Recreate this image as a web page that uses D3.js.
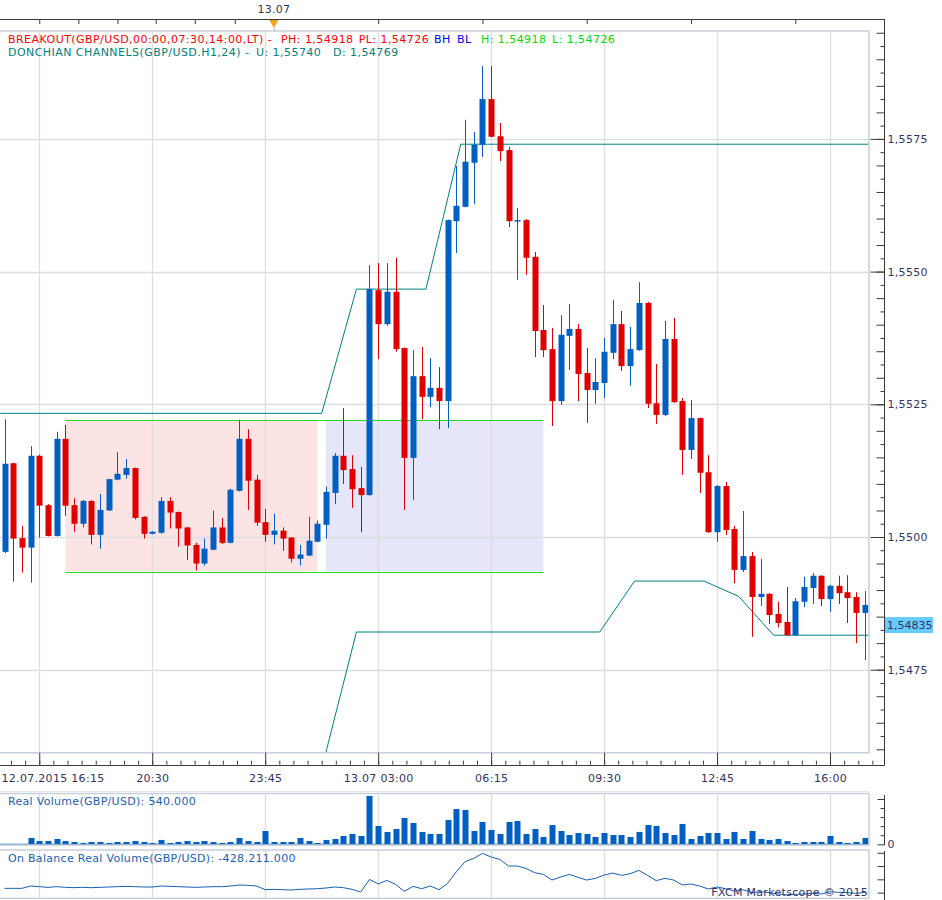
<!DOCTYPE html>
<html>
<head>
<meta charset="utf-8">
<script src="https://cdn.jsdelivr.net/npm/d3@7"></script>
<style>
  body { margin: 0; background: #fff; }
  svg text { font-family: "DejaVu Sans", Verdana, sans-serif; font-size: 11px; letter-spacing: 0.3px; }
  svg text.legend { letter-spacing: 0.45px; }
  svg text.last { letter-spacing: 0; }
</style>
</head>
<body>
<div id="chart"></div>
<script>
// GBP/USD 15 min bars
const open = [
  1.54972,1.55139,1.54998,1.54980,1.55153,1.55060,1.55002,1.55185,1.55060,1.55025,
  1.55068,1.55004,1.55050,1.55108,1.55117,1.55130,1.55038,1.55006,1.55008,1.55068,
  1.55047,1.55018,1.54985,1.54950,1.54976,1.55018,1.54989,1.55087,1.55185,1.55108,
  1.55028,1.55004,1.55012,1.54999,1.54959,1.54965,1.54991,1.55023,1.55083,1.55153,
  1.55128,1.55092,1.55079,1.55465,1.55401,1.55462,1.55356,1.55149,1.55303,1.55264,
  1.55281,1.55256,1.55595,1.55622,1.55705,1.55739,1.55825,1.55755,1.55729,1.55595,
  1.55597,1.55528,1.55390,1.55354,1.55256,1.55379,1.55392,1.55309,1.55277,1.55290,
  1.55347,1.55401,1.55322,1.55352,1.55441,1.55252,1.55230,1.55373,1.55256,1.55164,
  1.55224,1.55122,1.55009,1.55096,1.55015,1.54938,1.54964,1.54887,1.54893,1.54855,
  1.54840,1.54815,1.54878,1.54904,1.54927,1.54883,1.54908,1.54896,1.54887,1.54857
];
const high = [
  1.55222,1.55140,1.55021,1.55171,1.55155,1.55062,1.55198,1.55211,1.55073,1.55070,
  1.55069,1.55081,1.55110,1.55160,1.55147,1.55131,1.55039,1.55011,1.55075,1.55075,
  1.55048,1.55019,1.54989,1.54997,1.55050,1.55036,1.55091,1.55221,1.55203,1.55117,
  1.55053,1.55044,1.55018,1.55000,1.54985,1.55038,1.55031,1.55095,1.55158,1.55243,
  1.55154,1.55132,1.55512,1.55516,1.55516,1.55526,1.55357,1.55352,1.55358,1.55337,
  1.55320,1.55598,1.55699,1.55786,1.55763,1.55887,1.55887,1.55780,1.55735,1.55620,
  1.55599,1.55537,1.55437,1.55394,1.55418,1.55439,1.55401,1.55356,1.55337,1.55375,
  1.55447,1.55426,1.55396,1.55480,1.55443,1.55326,1.55407,1.55413,1.55262,1.55258,
  1.55225,1.55154,1.55098,1.55104,1.55021,1.55049,1.54972,1.54959,1.54894,1.54878,
  1.54906,1.54885,1.54925,1.54932,1.54928,1.54910,1.54927,1.54928,1.54896,1.54898
];
const low = [
  1.54970,1.54916,1.54933,1.54914,1.54999,1.55001,1.55001,1.55040,1.55010,1.55018,
  1.54986,1.54978,1.55049,1.55107,1.55110,1.55033,1.54997,1.55005,1.55006,1.55016,
  1.54982,1.54957,1.54937,1.54946,1.54975,1.54987,1.54988,1.55086,1.55051,1.55021,
  1.54991,1.54986,1.54974,1.54952,1.54946,1.54964,1.54990,1.54997,1.55062,1.55100,
  1.55055,1.55009,1.55078,1.55335,1.55398,1.55349,1.55051,1.55070,1.55222,1.55245,
  1.55203,1.55205,1.55535,1.55621,1.55627,1.55716,1.55753,1.55708,1.55584,1.55484,
  1.55494,1.55339,1.55339,1.55209,1.55249,1.55315,1.55256,1.55215,1.55251,1.55262,
  1.55335,1.55313,1.55285,1.55351,1.55243,1.55213,1.55228,1.55253,1.55117,1.55147,
  1.55083,1.55008,1.54991,1.55004,1.54913,1.54934,1.54812,1.54870,1.54836,1.54830,
  1.54814,1.54814,1.54868,1.54874,1.54870,1.54859,1.54874,1.54838,1.54800,1.54768
];
const close = [
  1.55138,1.54997,1.54980,1.55153,1.55059,1.55002,1.55185,1.55059,1.55025,1.55068,
  1.55004,1.55051,1.55109,1.55119,1.55130,1.55036,1.55006,1.55010,1.55068,1.55046,
  1.55016,1.54984,1.54950,1.54978,1.55018,1.54989,1.55089,1.55185,1.55106,1.55027,
  1.55004,1.55012,1.54997,1.54959,1.54967,1.54993,1.55025,1.55085,1.55153,1.55126,
  1.55090,1.55079,1.55467,1.55401,1.55462,1.55354,1.55149,1.55303,1.55264,1.55281,
  1.55256,1.55597,1.55624,1.55707,1.55739,1.55825,1.55754,1.55727,1.55595,1.55597,
  1.55526,1.55388,1.55352,1.55256,1.55381,1.55392,1.55307,1.55277,1.55292,1.55349,
  1.55401,1.55322,1.55354,1.55441,1.55251,1.55230,1.55373,1.55254,1.55164,1.55224,
  1.55121,1.55009,1.55096,1.55013,1.54938,1.54964,1.54887,1.54893,1.54853,1.54838,
  1.54815,1.54879,1.54906,1.54927,1.54883,1.54908,1.54894,1.54885,1.54857,1.54872
];
// real volume (thousands)
const volume = [
  0,0,0,540,280,280,450,280,200,110,
  200,200,110,200,200,280,200,110,370,110,
  200,280,200,280,200,110,200,540,280,200,
  1130,200,200,200,540,280,110,370,450,710,
  880,710,4110,1560,1050,1300,2240,1810,1050,880,
  880,2070,3000,2920,1130,1900,1220,880,1900,1980,
  880,1300,620,1640,1130,790,960,880,620,960,
  790,790,620,1050,1640,1560,960,790,1730,450,
  710,960,960,450,1050,450,1130,450,370,450,
  280,110,200,200,200,710,200,110,200,540
];
// on balance real volume (thousands)
const obv = [
  -426947,-426947,-426947,-426210,-426421,-426631,-426421,-426631,-426737,-426631,
  -426737,-426631,-426526,-426421,-426316,-426421,-426526,-426526,-426210,-426316,
  -426421,-426526,-426631,-426526,-426421,-426421,-426210,-425894,-426000,-426210,
  -427369,-427263,-427369,-427474,-427263,-427158,-427053,-426842,-426526,-426737,
  -427263,-428106,-424104,-425578,-424420,-425684,-427895,-426316,-427053,-426210,
  -427369,-425368,-421682,-418523,-417470,-415891,-417049,-417786,-419892,-419892,
  -420629,-421998,-422525,-424315,-423367,-422525,-423472,-424315,-423788,-422735,
  -422104,-422841,-422314,-421261,-422841,-424525,-423788,-424315,-425894,-425578,
  -426210,-427158,-426526,-427053,-427790,-427369,-428316,-428000,-428316,-428738,
  -428948,-428843,-428738,-428527,-428738,-428000,-428211,-428316,-428527,-428211
];

// Donchian channel (H1, 24) at hourly points, bar index / price
const donchUpperBars = [-0.5, 36.5, 40.5, 48.5, 52.5, 99.5];
const donchUpper = [1.55233, 1.55233, 1.55467, 1.55467, 1.55740, 1.55740];
const donchLowerBars = [-0.5, 36.5, 40.5, 68.5, 72.5, 80.5, 84.5, 88.5, 99.5];
const donchLower = [1.54563, 1.54563, 1.54821, 1.54821, 1.54917, 1.54917, 1.54888, 1.54815, 1.54815];

// breakout sessions (00:00-07:30 and 07:30-14:00) and previous range
const sessionBars = [[7, 36], [37, 62]];
const rangeHigh = 1.55221;
const rangeLow = 1.54935;

const timeLabels = ["12.07.2015 16:15", "20:30", "23:45", "13.07 03:00", "06:15", "09:30", "12:45", "16:00"];
const timeLabelBars = [4, 17, 30, 43, 56, 69, 82, 95];
const topTickBars = [4, 8.5, 13, 17.4, 21.9, 26.5, 43, 55, 67, 79, 91];
const dayLabel = "13.07";
const dayBar = 31;
const priceTicks = [1.5475, 1.5500, 1.5525, 1.5550, 1.5575];
const lastPrice = 1.54835;

const svg = d3.select("#chart").append("svg").attr("width", 942).attr("height", 900);

const plotRight = 869, plotTop = 31, plotBottom = 752.7, axisX = 884;
const volTop = 793.5, volBottom = 845, obvTop = 850, obvBottom = 898.3;
const axisColor = "#3a3a3a", labelColor = "#333366", gridColor = "#dedede", frameColor = "#c6d0dc";
const bull = "#0060c2", bear = "#e00000";

const x = d3.scaleLinear().domain([0, 99]).range([4.5, 864.8]);
const y = d3.scaleLinear().domain([1.5475, 1.5575]).range([669.7, 138.9]);
const yVol = d3.scaleLinear().domain([0, 4200]).range([844.3, 794.9]);
const yObv = d3.scaleLinear().domain([-430000, -414000]).range([898, 847.4]);
const px = v => Math.round(v) + 0.5;
const fmt = d => d3.format(".4f")(d).replace(".", ",");

const defs = svg.append("defs");
[["mainClip", plotTop, plotBottom], ["volClip", volTop, volBottom], ["obvClip", obvTop, obvBottom]].forEach(c => {
  defs.append("clipPath").attr("id", c[0]).append("rect")
    .attr("x", 0).attr("y", c[1]).attr("width", plotRight).attr("height", c[2] - c[1]);
});

// ---------- main price panel ----------
const main = svg.append("g").attr("clip-path", "url(#mainClip)");

sessionBars.forEach((s, k) => {
  main.append("rect")
    .attr("x", x(s[0])).attr("width", x(s[1]) - x(s[0]))
    .attr("y", y(rangeHigh)).attr("height", y(rangeLow) - y(rangeHigh))
    .attr("fill", k === 0 ? "#fde4e4" : "#e6e6fb");
});

main.selectAll(".hgrid").data(priceTicks).enter().append("line")
  .attr("x1", 0).attr("x2", plotRight)
  .attr("y1", d => px(y(d))).attr("y2", d => px(y(d)))
  .attr("stroke", gridColor).attr("stroke-width", 1.3);

main.selectAll(".vgrid").data(timeLabelBars).enter().append("line")
  .attr("x1", d => px(x(d))).attr("x2", d => px(x(d)))
  .attr("y1", plotTop).attr("y2", plotBottom)
  .attr("stroke", gridColor).attr("stroke-width", 1.3);

[rangeHigh, rangeLow].forEach(p => {
  main.append("line")
    .attr("x1", x(sessionBars[0][0])).attr("x2", x(sessionBars[1][1]))
    .attr("y1", px(y(p))).attr("y2", px(y(p)))
    .attr("stroke", "#22dd22").attr("stroke-width", 1);
});

const channel = d3.line().x(d => x(d[0])).y(d => y(d[1]));
[[donchUpperBars, donchUpper], [donchLowerBars, donchLower]].forEach(c => {
  main.append("path")
    .datum(d3.zip(c[0], c[1]))
    .attr("fill", "none")
    .attr("stroke", "#008080")
    .attr("stroke-width", 1)
    .attr("d", channel);
});

const candles = open.map((o, i) => ({ i: i, o: o, h: high[i], l: low[i], c: close[i] }));

main.selectAll(".wick").data(candles).enter().append("line")
  .attr("x1", d => px(x(d.i))).attr("x2", d => px(x(d.i)))
  .attr("y1", d => y(d.h)).attr("y2", d => y(d.l))
  .attr("stroke", d => d.c >= d.o ? bull : bear)
  .attr("stroke-width", 1);

main.selectAll(".body").data(candles).enter().append("rect")
  .attr("x", d => Math.round(x(d.i)) - 2.5)
  .attr("width", 6)
  .attr("y", d => y(Math.max(d.o, d.c)))
  .attr("height", d => Math.max(1.5, Math.abs(y(d.o) - y(d.c))))
  .attr("fill", d => d.c >= d.o ? bull : bear);

svg.append("path")
  .attr("d", `M0,${plotTop}H${plotRight}V${plotBottom}H0`)
  .attr("fill", "none").attr("stroke", frameColor).attr("stroke-width", 1.5);

// legend
const legend1 = [
  ["BREAKOUT(GBP/USD,00:00,07:30,14:00,LT) -", 8, "#ff0000"],
  ["PH: 1,54918", 281, "#ff0000"],
  ["PL: 1,54726", 358.7, "#ff0000"],
  ["BH", 434, "#0000ff"],
  ["BL", 457, "#0000ff"],
  ["H: 1,54918", 481, "#00dd00"],
  ["L: 1,54726", 552, "#00dd00"]
];
legend1.forEach(t => {
  svg.append("text").attr("class", "legend").attr("x", t[1]).attr("y", 43).attr("fill", t[2]).text(t[0]);
});
[["DONCHIAN CHANNELS(GBP/USD.H1,24) -", 8], ["U: 1,55740", 256], ["D: 1,54769", 333]].forEach(t => {
  svg.append("text").attr("class", "legend").attr("x", t[1]).attr("y", 56).attr("fill", "#008080").text(t[0]);
});

// top ruler
const topAxis = svg.append("g")
  .attr("transform", "translate(0,19)")
  .call(d3.axisBottom(x).tickValues(topTickBars).tickSize(5).tickFormat(""));
topAxis.select(".domain").remove();
topAxis.selectAll("line").attr("stroke", axisColor);
svg.append("line").attr("x1", 0).attr("x2", axisX + 0.5).attr("y1", 19.5).attr("y2", 19.5).attr("stroke", axisColor);
svg.append("text").attr("x", x(dayBar)).attr("y", 13).attr("text-anchor", "middle").attr("fill", labelColor).text(dayLabel);
svg.append("path")
  .attr("d", `M${x(dayBar) - 4.5},20L${x(dayBar) + 4.5},20L${x(dayBar)},28Z`)
  .attr("fill", "#f6a21c");
svg.append("line")
  .attr("x1", px(x(dayBar))).attr("x2", px(x(dayBar))).attr("y1", 28).attr("y2", plotTop)
  .attr("stroke", "#bbbbbb");

// bottom time axis
const bottomY = 764.7;
const minorTime = svg.append("g")
  .attr("transform", `translate(0,${bottomY})`)
  .call(d3.axisBottom(x).tickValues(d3.range(4 - 13 / 8 * 2, 100, 13 / 8)).tickSize(-4).tickFormat(""));
minorTime.select(".domain").remove();
minorTime.selectAll("line").attr("stroke", axisColor);

const timeAxis = svg.append("g")
  .attr("transform", `translate(0,${bottomY})`)
  .call(d3.axisBottom(x).tickValues(timeLabelBars).tickSize(-12).tickPadding(10)
    .tickFormat((d, i) => timeLabels[i]));
timeAxis.select(".domain").remove();
timeAxis.selectAll("line").attr("stroke", axisColor);
timeAxis.selectAll("text").attr("fill", labelColor).style("font-size", "11px").style("font-family", null);
timeAxis.select(".tick text").attr("text-anchor", "start").attr("x", -x(timeLabelBars[0]) + 1);
svg.append("line").attr("x1", 0).attr("x2", axisX + 0.5).attr("y1", px(bottomY)).attr("y2", px(bottomY)).attr("stroke", axisColor);

// right price axis
svg.append("line").attr("x1", axisX + 0.5).attr("x2", axisX + 0.5).attr("y1", 19).attr("y2", px(bottomY)).attr("stroke", axisColor);
const minorPrice = d3.range(1.5460, 1.5600, 0.00025).filter(p => y(p) > 22 && y(p) < 762);
const priceMinor = svg.append("g")
  .attr("transform", `translate(${axisX + 0.5},0)`)
  .call(d3.axisRight(y).tickValues(minorPrice).tickSize(-4).tickFormat(""));
priceMinor.selectAll(".tick line").attr("x2", d => Math.abs(d * 2000 - Math.round(d * 2000)) < 1e-6 ? -8 : -4);
const priceAxis = svg.append("g")
  .attr("transform", `translate(${axisX + 0.5},0)`)
  .call(d3.axisRight(y).tickValues(priceTicks).tickSize(-14).tickPadding(3).tickFormat(fmt));
[priceMinor, priceAxis].forEach(a => {
  a.select(".domain").remove();
  a.selectAll("line").attr("stroke", axisColor);
});
priceAxis.selectAll("text").attr("fill", labelColor).style("font-size", "11px").style("font-family", null);

svg.append("rect")
  .attr("x", 885).attr("y", y(lastPrice) - 7.5).attr("width", 48).attr("height", 16)
  .attr("fill", "#66ccff");
svg.append("text")
  .attr("class", "last")
  .attr("x", 887).attr("y", y(lastPrice) + 4.5).attr("fill", labelColor)
  .text(d3.format(".5f")(lastPrice).replace(".", ","));

// ---------- volume panel ----------
const vol = svg.append("g").attr("clip-path", "url(#volClip)");
vol.selectAll(".vgrid").data(timeLabelBars).enter().append("line")
  .attr("x1", d => px(x(d))).attr("x2", d => px(x(d)))
  .attr("y1", volTop).attr("y2", volBottom)
  .attr("stroke", gridColor).attr("stroke-width", 1.3);
vol.selectAll(".bar").data(volume).enter().append("rect")
  .attr("x", (d, i) => Math.round(x(i)) - 2.5)
  .attr("width", 6)
  .attr("y", d => yVol(d))
  .attr("height", d => yVol(0) - yVol(d))
  .attr("fill", bull);
vol.append("line").attr("x1", 0).attr("x2", plotRight).attr("y1", yVol(0)).attr("y2", yVol(0))
  .attr("stroke", "#1a5fb4").attr("stroke-width", 1.2);
svg.append("line").attr("x1", 0).attr("x2", plotRight).attr("y1", 791.5).attr("y2", 791.5).attr("stroke", "#e4e8ee");
svg.append("rect").attr("x", -2).attr("y", volTop).attr("width", plotRight + 2).attr("height", volBottom - volTop)
  .attr("fill", "none").attr("stroke", frameColor).attr("stroke-width", 1.5);
svg.append("text").attr("x", 8).attr("y", 805).attr("fill", "#1a5fb4").text("Real Volume(GBP/USD): 540.000");

const volAxis = svg.append("g")
  .attr("transform", `translate(${axisX + 0.5},0)`)
  .call(d3.axisRight(yVol).tickValues(d3.range(0, 4000, 770)).tickSize(-4).tickPadding(3)
    .tickFormat(d => d === 0 ? "0" : ""));
volAxis.selectAll("line").attr("stroke", axisColor).attr("x2", d => d === 0 || d > 3800 ? -7 : -4);
volAxis.select(".domain").remove();
volAxis.selectAll("text").attr("fill", labelColor).style("font-size", "11px").style("font-family", null);
svg.append("line").attr("x1", axisX + 0.5).attr("x2", axisX + 0.5).attr("y1", 795).attr("y2", 845).attr("stroke", axisColor);

// ---------- on balance volume panel ----------
const obvG = svg.append("g").attr("clip-path", "url(#obvClip)");
obvG.selectAll(".vgrid").data(timeLabelBars).enter().append("line")
  .attr("x1", d => px(x(d))).attr("x2", d => px(x(d)))
  .attr("y1", obvTop).attr("y2", obvBottom)
  .attr("stroke", gridColor).attr("stroke-width", 1.3);
obvG.append("path")
  .datum(obv)
  .attr("fill", "none")
  .attr("stroke", "#1a5fb4")
  .attr("stroke-width", 1)
  .attr("d", d3.line().x((d, i) => x(i)).y(d => yObv(d)));
svg.append("rect").attr("x", -2).attr("y", obvTop).attr("width", plotRight + 2).attr("height", obvBottom - obvTop)
  .attr("fill", "none").attr("stroke", frameColor).attr("stroke-width", 1.5);
svg.append("text").attr("x", 8).attr("y", 862).attr("fill", "#1a5fb4").text("On Balance Real Volume(GBP/USD): -428.211.000");
svg.append("text").attr("x", 868).attr("y", 896).attr("text-anchor", "end").attr("fill", labelColor)
  .text("FXCM Marketscope \u00a9 2015");

const obvAxis = svg.append("g")
  .attr("transform", `translate(${axisX + 0.5},0)`)
  .call(d3.axisRight(yObv).tickValues([-428300, -424100, -419900, -415700]).tickSize(-7).tickFormat(""));
obvAxis.select(".domain").remove();
obvAxis.selectAll("line").attr("stroke", axisColor);
svg.append("line").attr("x1", axisX + 0.5).attr("x2", axisX + 0.5).attr("y1", 851).attr("y2", 900).attr("stroke", axisColor);
</script>
</body>
</html>
